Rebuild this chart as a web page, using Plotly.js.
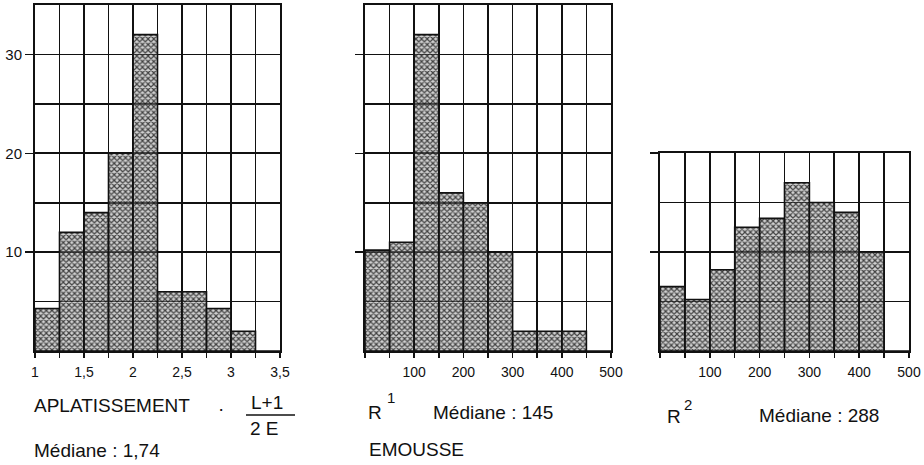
<!DOCTYPE html>
<html>
<head>
<meta charset="utf-8">
<script src="https://cdn.plot.ly/plotly-3.0.1.min.js"></script>
<style>
html,body{margin:0;padding:0;background:#fff;}
#chart{width:924px;height:465px;}
</style>
</head>
<body>
<div id="chart"></div>
<script>
// ---- data ----
const aplBinStart = [1, 1.25, 1.5, 1.75, 2, 2.25, 2.5, 2.75, 3, 3.25];
const aplValues   = [4.3, 12, 14, 20, 32, 6, 6, 4.3, 2, 0];
const aplTickVals = [1, 1.5, 2, 2.5, 3, 3.5];

const r1BinStart  = [0, 50, 100, 150, 200, 250, 300, 350, 400, 450];
const r1Values    = [10.2, 11, 32, 16, 15, 10, 2, 2, 2, 0];

const r2BinStart  = [0, 50, 100, 150, 200, 250, 300, 350, 400, 450];
const r2Values    = [6.5, 5.2, 8.2, 12.5, 13.4, 17, 15, 14, 10, 0];

const rTickVals   = [100, 200, 300, 400, 500];
const yTickVals1  = [10, 20, 30];
const yTickVals3  = [10, 20];

// ---- geometry helpers (page pixels -> paper) ----
const W = 924, H = 465;
const px = x => x / W;
const py = y => 1 - y / H;

const INK = '#111111';
const tickFont = {family: 'Liberation Sans, Arial, sans-serif', size: 14, color: INK};
const labelFont = {family: 'Liberation Sans, Arial, sans-serif', size: 19, color: INK};

function barTrace(xs, ys, w, xa, ya) {
  return {
    type: 'bar', x: xs, y: ys, width: w, offset: 0,
    xaxis: xa, yaxis: ya, showlegend: false, hoverinfo: 'skip',
    marker: {
      color: 'rgba(140,140,140,0.5)',
      pattern: {shape: 'x', size: 4, solidity: 0.5, fgcolor: '#111111', fgopacity: 0.75, bgcolor: 'rgba(150,150,150,0.45)'},
      line: {color: INK, width: 1.6}
    }
  };
}

const data = [
  barTrace(aplBinStart, aplValues, 0.25, 'x', 'y'),
  barTrace(r1BinStart, r1Values, 50, 'x2', 'y2'),
  barTrace(r2BinStart, r2Values, 50, 'x3', 'y3')
];

function xAxis(domain, range, tickvals, dtick, anchor) {
  return {
    domain: domain, range: range, anchor: anchor,
    tickmode: 'array', tickvals: tickvals,
    ticks: 'outside', ticklen: 5, tickwidth: 1.5, tickcolor: INK,
    ticklabelstandoff: 2,
    showgrid: true, gridcolor: INK, gridwidth: 1.6,
    minor: {dtick: dtick, tick0: range[0], showgrid: true, gridcolor: INK, gridwidth: 1.6, ticks: 'outside', ticklen: 5, tickwidth: 1.5, tickcolor: INK},
    showline: true, linecolor: INK, linewidth: 2, mirror: true,
    zeroline: false, tickfont: tickFont, fixedrange: true
  };
}
function yAxis(domain, range, tickvals, showLabels, anchor) {
  return {
    domain: domain, range: range, anchor: anchor,
    tickmode: 'array', tickvals: tickvals, showticklabels: showLabels,
    ticks: 'outside', ticklen: 8, tickwidth: 1.5, tickcolor: INK,
    showgrid: true, gridcolor: INK, gridwidth: 1.6,
    minor: {dtick: 5, tick0: 0, showgrid: true, gridcolor: INK, gridwidth: 1.6, ticks: ''},
    showline: true, linecolor: INK, linewidth: 2, mirror: true,
    zeroline: false, tickfont: {family: 'Liberation Sans, Arial, sans-serif', size: 15, color: INK},
    fixedrange: true
  };
}

const yBottom = 351;
const ann = (text, x, y, size, extra) => Object.assign({
  text: text, x: px(x), y: py(y), xref: 'paper', yref: 'paper',
  xanchor: 'left', yanchor: 'middle', showarrow: false,
  font: Object.assign({}, labelFont, size ? {size: size} : {})
}, extra || {});

const layout = {
  width: W, height: H,
  margin: {l: 0, r: 0, t: 0, b: 0},
  paper_bgcolor: '#fff', plot_bgcolor: 'rgba(0,0,0,0)',
  separators: ', ',
  bargap: 0,
  xaxis:  xAxis([px(35), px(280)], [1, 3.5], aplTickVals, 0.25, 'y'),
  yaxis:  yAxis([py(yBottom), py(5)], [0, 35], yTickVals1, true, 'x'),
  xaxis2: xAxis([px(365), px(611)], [0, 500], rTickVals, 50, 'y2'),
  yaxis2: yAxis([py(yBottom), py(5)], [0, 35], yTickVals1, false, 'x2'),
  xaxis3: xAxis([px(660), px(909)], [0, 500], rTickVals, 50, 'y3'),
  yaxis3: yAxis([py(yBottom), py(153)], [0, 20], yTickVals3, false, 'x3'),
  annotations: [
    ann('APLATISSEMENT', 32, 405),
    ann('·', 216, 408),
    ann('L+1', 249, 402),
    ann('2 E', 248, 428),
    ann('Médiane : 1,74', 32, 450),
    ann('R', 366, 412),
    ann('1', 385, 397, 15),
    ann('Médiane : 145', 431, 412),
    ann('EMOUSSE', 367, 449),
    ann('R', 665, 416),
    ann('2', 682, 404, 15),
    ann('Médiane : 288', 757, 415)
  ],
  shapes: [
    {type: 'line', xref: 'paper', yref: 'paper', x0: px(246), x1: px(295), y0: py(415), y1: py(415), line: {color: INK, width: 1.5}}
  ]
};

Plotly.newPlot('chart', data, layout, {staticPlot: true, displayModeBar: false});
</script>
</body>
</html>
